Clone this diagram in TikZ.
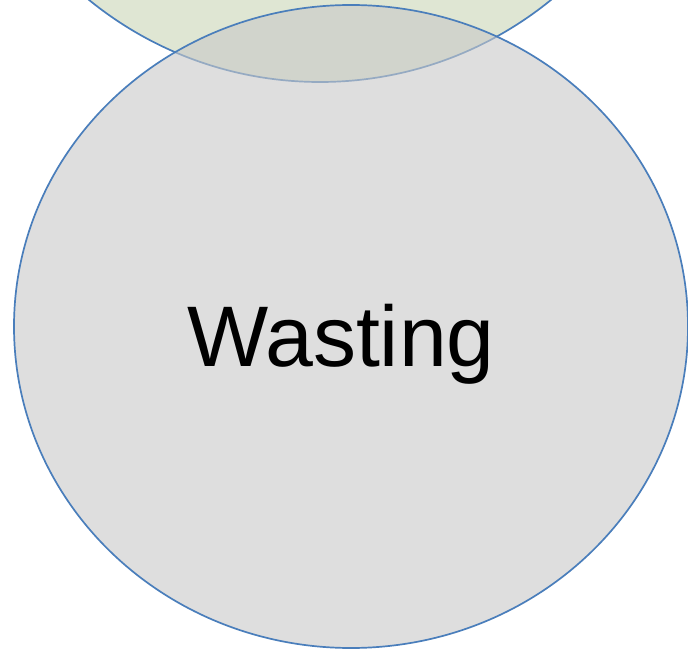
\documentclass[tikz,border=0pt]{standalone}
\usepackage{fontspec}
\setmainfont{Liberation Sans}
\definecolor{edgeblue}{RGB}{74,126,187}
\definecolor{greenfill}{RGB}{223,230,211}
\definecolor{grayfill}{RGB}{200,200,200}
\tikzset{
  venn/.style={draw=edgeblue, line width=1.7pt},
}
\begin{document}
\begin{tikzpicture}[x=1pt,y=-1pt]
\useasboundingbox (0,0) rectangle (688,652);
\clip (0,0) rectangle (688,652);
\path[venn, fill=greenfill] (320,-284) circle (366);
\path[fill=grayfill, fill opacity=0.6] (351,326.5) ellipse [x radius=337, y radius=321.5];
\path[venn] (351,326.5) ellipse [x radius=337, y radius=321.5];
\node[anchor=base, inner sep=0pt, font=\fontsize{86}{100}\selectfont] (w) at (341,366) {Wasting};
\end{tikzpicture}
\end{document}
